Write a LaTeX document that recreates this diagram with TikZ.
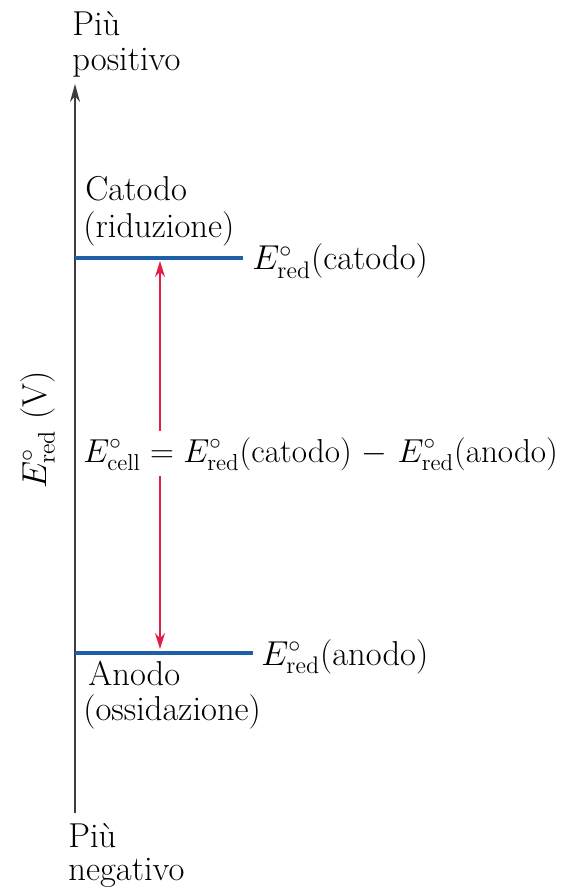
\documentclass[tikz,border=0pt]{standalone}
\usepackage{graphicx}
\usetikzlibrary{arrows.meta}
\definecolor{levelblue}{RGB}{31,95,168}
\definecolor{arrowred}{RGB}{226,30,70}
\definecolor{axisgray}{RGB}{60,60,60}
\begin{document}
\begin{tikzpicture}[x=0.5pt,y=-0.5pt,
  lbl/.style={anchor=base west,inner sep=0pt,font=\fontsize{17.28}{18}\selectfont},
  level/.style={draw=levelblue,line width=2pt},
  axisline/.style={draw=axisgray,line width=0.9pt,-{Stealth[length=9pt,width=5pt]}},
  diff/.style={draw=arrowred,line width=0.8pt,{Stealth[length=8pt,width=5pt]}-{Stealth[length=8pt,width=5pt]}}]
\useasboundingbox (0,0) rectangle (566,893);
% axis
\coordinate (axbot) at (75,813);
\coordinate (axtop) at (75,84);
\draw[axisline] (axbot) -- (axtop);
\node[lbl] (pos1) at (72,36) {Più};
\node[lbl] (pos2) at (72,71) {positivo};
\node[lbl] (neg1) at (68,847) {Più};
\node[lbl] (neg2) at (68,880) {negativo};
\node[lbl,rotate=90,anchor=base] (ylab) at (46,430) {$E^\circ_{\mathrm{red}}$ (V)};
% cathode level
\coordinate (catL) at (75,258);
\coordinate (catR) at (243,258);
\draw[level] (catL) -- (catR);
\node[lbl] (cat1) at (85,200) {Catodo};
\node[lbl] (cat2) at (83,237) {(riduzione)};
\node[lbl] (catE) at (252,270) {$E^\circ_{\mathrm{red}}$(catodo)};
% anode level
\coordinate (anL) at (75,653);
\coordinate (anR) at (253,653);
\draw[level] (anL) -- (anR);
\node[lbl] (an1) at (88,685) {Anodo};
\node[lbl] (an2) at (83,720) {(ossidazione)};
\node[lbl] (anE) at (261,665) {$E^\circ_{\mathrm{red}}$(anodo)};
% difference arrow
\coordinate (dtop) at (160,261);
\coordinate (dbot) at (160,649);
\draw[diff] (dtop) -- (dbot);
\node[lbl,fill=white,inner sep=3pt] (cell) at (77,462) {\scalebox{0.96}{$E^\circ_{\mathrm{cell}} = E^\circ_{\mathrm{red}}$(catodo) $-$ $E^\circ_{\mathrm{red}}$(anodo)}};
\end{tikzpicture}
\end{document}
